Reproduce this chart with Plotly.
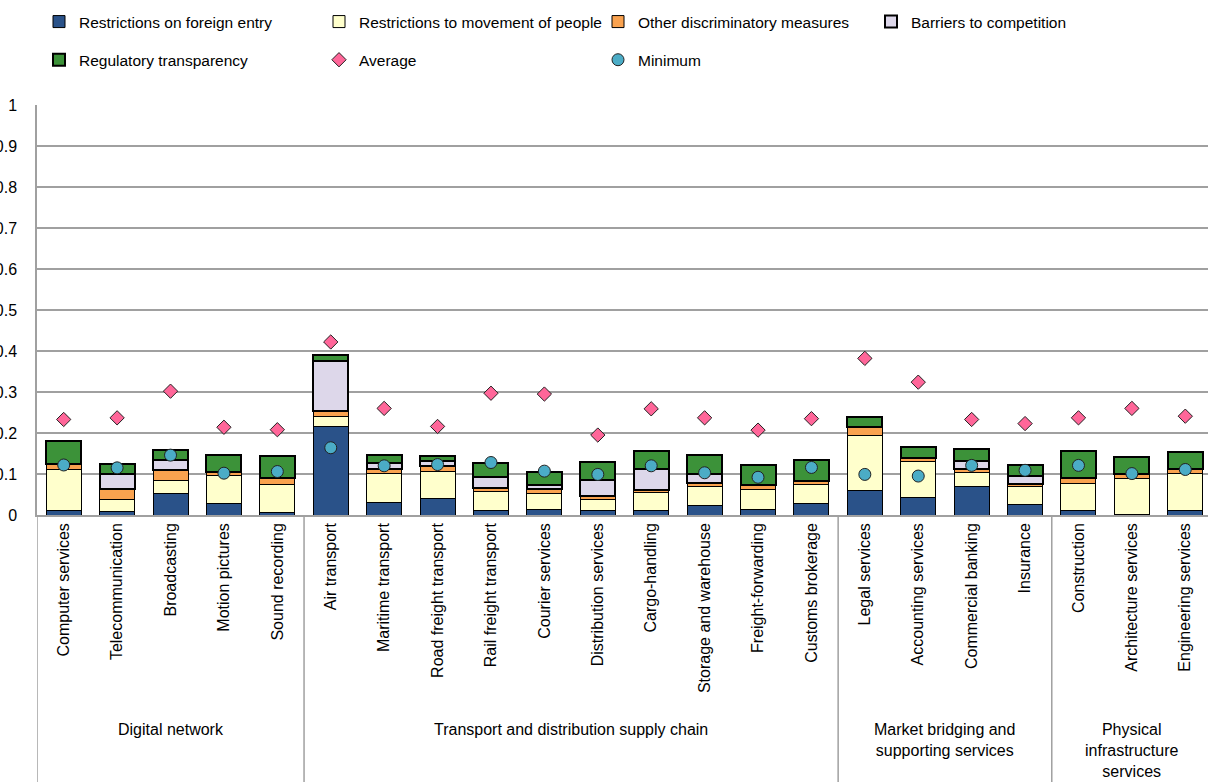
import plotly.graph_objects as go

categories = ["Computer services", "Telecommunication", "Broadcasting", "Motion pictures", "Sound recording",
              "Air transport", "Maritime transport", "Road freight transport", "Rail freight transport",
              "Courier services", "Distribution services", "Cargo-handling", "Storage and warehouse",
              "Freight-forwarding", "Customs brokerage",
              "Legal services", "Accounting services", "Commercial banking", "Insurance",
              "Construction", "Architecture services", "Engineering services"]

group_names = ["Digital network", "Transport and distribution supply chain",
               "Market bridging and<br>supporting services", "Physical<br>infrastructure<br>services"]
group_sizes = [5, 10, 4, 3]

foreign_entry = [0.012, 0.009, 0.053, 0.028, 0.007, 0.216, 0.031, 0.041, 0.011, 0.013, 0.011,
                 0.011, 0.024, 0.013, 0.027, 0.059, 0.043, 0.070, 0.025, 0.012, 0.001, 0.010]
movement_people = [0.099, 0.030, 0.032, 0.069, 0.067, 0.025, 0.071, 0.064, 0.046, 0.040, 0.027,
                   0.043, 0.046, 0.050, 0.047, 0.134, 0.088, 0.034, 0.045, 0.065, 0.088, 0.092]
other_discrim = [0.013, 0.025, 0.024, 0.009, 0.016, 0.013, 0.011, 0.015, 0.008, 0.010, 0.008,
                 0.007, 0.008, 0.009, 0.008, 0.021, 0.008, 0.008, 0.006, 0.013, 0.012, 0.009]
barriers_comp = [0.000, 0.037, 0.024, 0.000, 0.000, 0.121, 0.015, 0.011, 0.028, 0.011, 0.039,
                 0.050, 0.022, 0.000, 0.000, 0.000, 0.000, 0.019, 0.019, 0.000, 0.000, 0.000]
reg_transparency = [0.057, 0.023, 0.025, 0.040, 0.055, 0.016, 0.018, 0.014, 0.035, 0.032, 0.044,
                    0.045, 0.047, 0.051, 0.051, 0.026, 0.027, 0.031, 0.027, 0.066, 0.041, 0.042]
average = [0.233, 0.237, 0.302, 0.214, 0.208, 0.422, 0.260, 0.216, 0.297, 0.295, 0.195,
           0.259, 0.237, 0.207, 0.235, 0.382, 0.324, 0.233, 0.223, 0.237, 0.260, 0.241]
minimum = [0.122, 0.115, 0.146, 0.102, 0.106, 0.164, 0.120, 0.123, 0.128, 0.107, 0.099,
           0.120, 0.103, 0.092, 0.116, 0.099, 0.095, 0.121, 0.109, 0.121, 0.101, 0.111]

y_ticks = [0, 0.1, 0.2, 0.3, 0.4, 0.5, 0.6, 0.7, 0.8, 0.9, 1]

FONT = "Liberation Sans, Arial, sans-serif"
x = list(range(len(categories)))

fig = go.Figure()

bar_series = [
    ("Restrictions on foreign entry", foreign_entry, "#2A5289", 1.0, "legend"),
    ("Restrictions to movement of people", movement_people, "#FFFFCC", 1.0, "legend2"),
    ("Other discriminatory measures", other_discrim, "#F9A24F", 1.0, "legend3"),
    ("Barriers to competition", barriers_comp, "#DDD7EA", 2.0, "legend4"),
    ("Regulatory transparency", reg_transparency, "#3C9239", 2.0, "legend"),
]
for name, vals, col, lw, lg in bar_series:
    fig.add_trace(go.Bar(x=x, y=vals, name=name, marker=dict(color=col, line=dict(color="#000000", width=lw)),
                         legend=lg, legendgroup=name, hoverinfo="skip"))

fig.add_trace(go.Scatter(x=x, y=average, mode="markers", name="Average", legend="legend2", legendgroup="avg",
                         marker=dict(symbol="diamond", size=11, color="#FF6699",
                                     line=dict(color="#222222", width=1))))
fig.add_trace(go.Scatter(x=x, y=minimum, mode="markers", name="Minimum", legend="legend3", legendgroup="min",
                         marker=dict(symbol="circle", size=12, color="#4BACC6",
                                     line=dict(color="#222222", width=1))))

# group separators and labels
start = 0
for gname, size in zip(group_names, group_sizes):
    fig.add_shape(type="line", xref="x", yref="paper", x0=start - 0.5, x1=start - 0.5, y0=0, y1=-0.66,
                  line=dict(color="#A0A0A0", width=1.5))
    center = start + (size - 1) / 2
    if start + size == len(categories):
        center = (start - 0.5 + 21.5) / 2
    fig.add_annotation(x=center, xref="x", y=-0.4976, yref="paper", yanchor="top", text=gname,
                       showarrow=False, align="center", font=dict(family=FONT, size=16, color="#000000"))
    start += size

PW = 1208 - 37
leg_common = dict(orientation="v", xref="paper", yref="container", xanchor="left", yanchor="top",
                  font=dict(family=FONT, size=15.5, color="#000000"), bgcolor="rgba(0,0,0,0)",
                  tracegroupgap=15, itemclick=False, itemdoubleclick=False)
ly = 1 - 5 / 782
fig.update_layout(
    width=1208, height=782,
    margin=dict(l=37, r=0, t=105, b=267),
    paper_bgcolor="#FFFFFF", plot_bgcolor="#FFFFFF",
    barmode="stack", bargap=0.345,
    showlegend=True,
    legend=dict(x=2 / PW, y=ly, **leg_common),
    legend2=dict(x=282 / PW, y=ly, **leg_common),
    legend3=dict(x=561 / PW, y=ly, **leg_common),
    legend4=dict(x=834 / PW, y=ly, **leg_common),
    xaxis=dict(range=[-0.5, 21.425], tickmode="array", tickvals=x, ticktext=categories, tickangle=-90,
               tickfont=dict(family=FONT, size=16, color="#000000"), showline=True, linecolor="#A0A0A0",
               linewidth=1.5, showgrid=False, ticks="", zeroline=False, automargin=False),
    yaxis=dict(range=[0, 1], tickmode="array", tickvals=y_ticks, ticktext=[f"{v:g}" for v in y_ticks],
               tickfont=dict(family=FONT, size=16, color="#000000"), showline=True, linecolor="#A0A0A0",
               linewidth=1.5, showgrid=True, gridcolor="#A0A0A0", gridwidth=1.5, ticks="",
               ticklabelstandoff=15, zeroline=False, automargin=False),
)

fig.write_html("out.html")
